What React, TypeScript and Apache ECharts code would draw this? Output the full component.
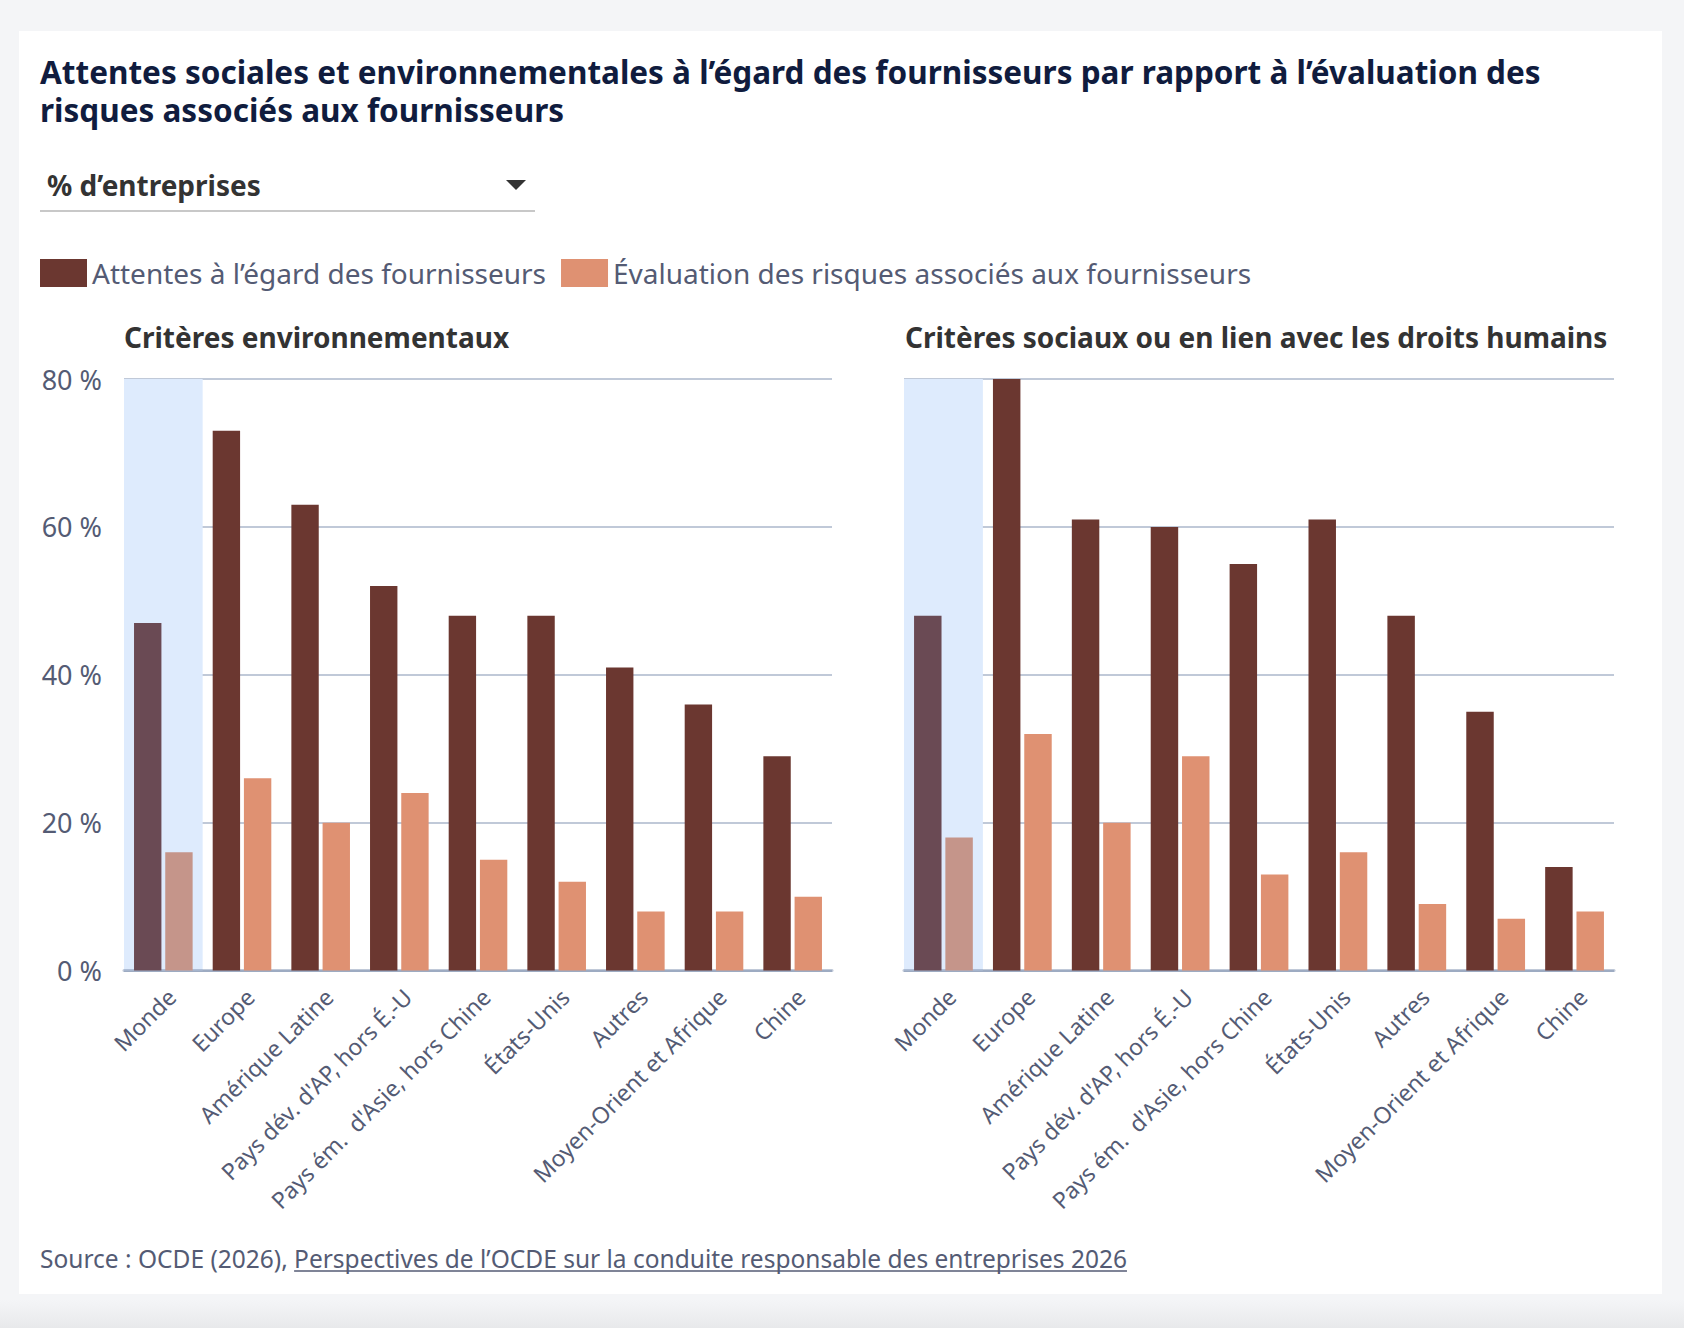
import React, { useEffect, useRef } from "react";
import * as echarts from "echarts";

const W = 1684;
const H = 1328;

const titleLines = [
  "Attentes sociales et environnementales à l’égard des fournisseurs par rapport à l’évaluation des",
  "risques associés aux fournisseurs",
];
const measureLabel = "% d’entreprises";
const seriesNames = [
  "Attentes à l’égard des fournisseurs",
  "Évaluation des risques associés aux fournisseurs",
];
const panelTitles = [
  "Critères environnementaux",
  "Critères sociaux ou en lien avec les droits humains",
];
const categories = [
  "Monde",
  "Europe",
  "Amérique Latine",
  "Pays dév. d'AP, hors É.-U",
  "Pays ém.  d'Asie, hors Chine",
  "États-Unis",
  "Autres",
  "Moyen-Orient et Afrique",
  "Chine",
];
const highlightCategory = "Monde";

const envExpectations = [47, 73, 63, 52, 48, 48, 41, 36, 29];
const envRiskAssessment = [16, 26, 20, 24, 15, 12, 8, 8, 10];
const socExpectations = [48, 80, 61, 60, 55, 61, 48, 35, 14];
const socRiskAssessment = [18, 32, 20, 29, 13, 16, 9, 7, 8];

const yMin = 0;
const yMax = 80;
const yInterval = 20;

const sourcePrefix = "Source : OCDE (2026), ";
const sourceLink =
  "Perspectives de l’OCDE sur la conduite responsable des entreprises 2026";

const FONT = "Noto Sans";
const C_DARK = "#6b3730";
const C_LIGHT = "#df9172";
const C_DARK_HL = "#6a4a54";
const C_LIGHT_HL = "#c5958a";
const C_BAND = "#deebfd";
const C_GRID = "rgba(115,135,168,0.45)";
const C_TEXT = "#545b74";

function measure(text: string, font: string): number {
  const c = document.createElement("canvas");
  const ctx = c.getContext("2d");
  if (!ctx) return text.length * 11;
  ctx.font = font;
  return ctx.measureText(text).width;
}

export default function App() {
  const ref = useRef<HTMLDivElement>(null);

  useEffect(() => {
    if (!ref.current) return;
    const chart = echarts.init(ref.current, null, { renderer: "svg", width: W, height: H });

    const withHighlight = (vals: number[], hl: string) =>
      vals.map((v, i) =>
        categories[i] === highlightCategory ? { value: v, itemStyle: { color: hl } } : v
      );

    const bandColors = categories.map((c) =>
      c === highlightCategory ? C_BAND : "rgba(0,0,0,0)"
    );

    const grids = [
      { left: 124, right: W - 832, top: 379, bottom: H - 970.6 },
      { left: 904, right: W - 1614, top: 379, bottom: H - 970.6 },
    ];

    const xAxes = grids.map((_, gi) => ({
      type: "category",
      gridIndex: gi,
      data: categories,
      axisTick: { show: false, interval: 0 },
      axisLine: { show: true, lineStyle: { color: C_GRID, width: 3 } },
      axisLabel: {
        interval: 0,
        rotate: 45,
        margin: 14,
        verticalAlign: "top",
        fontSize: 23,
        color: C_TEXT,
        fontFamily: FONT,
      },
      splitArea: { show: true, interval: 0, areaStyle: { color: bandColors } },
      splitLine: { show: false },
    }));

    const yAxes = grids.map((_, gi) => ({
      type: "value",
      gridIndex: gi,
      min: yMin,
      max: yMax,
      interval: yInterval,
      axisLine: { show: false },
      axisTick: { show: false },
      axisLabel: {
        show: gi === 0,
        formatter: "{value} %",
        fontSize: 27,
        margin: 22,
        color: C_TEXT,
        fontFamily: FONT,
      },
      splitLine: { show: true, lineStyle: { color: C_GRID, width: 2 } },
    }));

    const barCommon = { type: "bar", barCategoryGap: "25.5%", barGap: "14%" };
    const series = [
      { ...barCommon, name: seriesNames[0], xAxisIndex: 0, yAxisIndex: 0, itemStyle: { color: C_DARK }, data: withHighlight(envExpectations, C_DARK_HL) },
      { ...barCommon, name: seriesNames[1], xAxisIndex: 0, yAxisIndex: 0, itemStyle: { color: C_LIGHT }, data: withHighlight(envRiskAssessment, C_LIGHT_HL) },
      { ...barCommon, name: seriesNames[0], xAxisIndex: 1, yAxisIndex: 1, itemStyle: { color: C_DARK }, data: withHighlight(socExpectations, C_DARK_HL) },
      { ...barCommon, name: seriesNames[1], xAxisIndex: 1, yAxisIndex: 1, itemStyle: { color: C_LIGHT }, data: withHighlight(socRiskAssessment, C_LIGHT_HL) },
    ];

    const srcFont = `24.5px "${FONT}"`;
    const prefixW = measure(sourcePrefix, srcFont);
    const linkW = measure(sourceLink, srcFont);
    const srcX = 40;
    const srcMid = 1258.5;

    const graphic: any[] = [
      { type: "rect", z: -100, silent: true, shape: { x: 19, y: 31, width: 1643, height: 1263 }, style: { fill: "#ffffff" } },
      {
        type: "rect", z: -100, silent: true,
        shape: { x: 0, y: 1300, width: W, height: H - 1300 },
        style: {
          fill: new echarts.graphic.LinearGradient(0, 0, 0, 1, [
            { offset: 0, color: "#f4f5f7" },
            { offset: 1, color: "#e8e9eb" },
          ]),
        },
      },
      {
        type: "text", x: 40, y: 52,
        style: {
          text: titleLines.join("\n"),
          font: `bold 31.5px "${FONT}"`,
          lineHeight: 38,
          fill: "#101c3e",
          verticalAlign: "top",
          align: "left",
        },
      },
      { type: "text", x: 47, y: 185, style: { text: measureLabel, font: `bold 28px "${FONT}"`, fill: "#333333", verticalAlign: "middle", align: "left" } },
      { type: "polygon", shape: { points: [[506, 180], [526, 180], [516, 190]] }, style: { fill: "#333333" } },
      { type: "line", shape: { x1: 40, y1: 211, x2: 535, y2: 211 }, style: { stroke: "#c8c8c8", lineWidth: 2 } },
      { type: "text", x: 124, y: 337, style: { text: panelTitles[0], font: `bold 28px "${FONT}"`, fill: "#333333", verticalAlign: "middle", align: "left" } },
      { type: "text", x: 905, y: 337, style: { text: panelTitles[1], font: `bold 28px "${FONT}"`, fill: "#333333", verticalAlign: "middle", align: "left" } },
      { type: "text", x: srcX, y: srcMid, style: { text: sourcePrefix, font: srcFont, fill: C_TEXT, verticalAlign: "middle", align: "left" } },
      { type: "text", x: srcX + prefixW, y: srcMid, style: { text: sourceLink, font: srcFont, fill: C_TEXT, verticalAlign: "middle", align: "left" } },
      { type: "line", shape: { x1: srcX + prefixW, y1: 1271, x2: srcX + prefixW + linkW, y2: 1271 }, style: { stroke: C_TEXT, lineWidth: 1.5 } },
    ];

    chart.setOption({
      animation: false,
      backgroundColor: "#f4f5f7",
      textStyle: { fontFamily: FONT },
      legend: {
        left: 40,
        top: 259,
        padding: 0,
        icon: "rect",
        itemWidth: 47,
        itemHeight: 28,
        itemGap: 15,
        data: seriesNames,
        textStyle: { fontSize: 28, color: C_TEXT, fontFamily: FONT },
        selectedMode: false,
      },
      grid: grids,
      xAxis: xAxes,
      yAxis: yAxes,
      series,
      graphic,
    } as any);

    return () => chart.dispose();
  }, []);

  return (
    <div style={{ position: "fixed", left: 0, top: 0, width: W, height: H, background: "#f4f5f7" }}>
      <div ref={ref} style={{ width: W, height: H }} />
    </div>
  );
}
